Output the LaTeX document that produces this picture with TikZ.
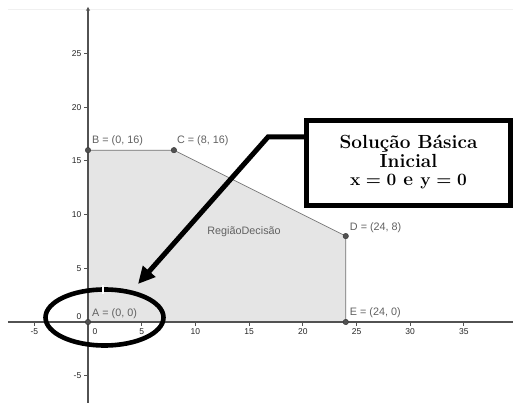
\documentclass[tikz,border=0pt]{standalone}
\usepackage{fontspec}
\setsansfont{Liberation Sans}
\usetikzlibrary{arrows.meta,shapes.geometric}
\newcommand\solboxtext{{\fontsize{19}{18.5}\selectfont\bfseries\boldmath
  \begin{tabular}{@{}c@{}}Solução Básica\\ Inicial\\ $\mathbf{x = 0}$ e $\mathbf{y = 0}$\end{tabular}}}
\begin{document}
\begin{tikzpicture}[x=1pt,y=1pt,
  lbl/.style={font=\sffamily\fontsize{10.8}{12}\selectfont, text=black!62, inner sep=0pt, anchor=west},
  ticklbl/.style={font=\sffamily\fontsize{8.5}{10}\selectfont, text=black!85, inner sep=0pt},
  vertex/.style={circle, fill=black!68, draw=black!80, line width=0.4pt, inner sep=0pt, minimum size=5.5pt},
  axisline/.style={draw=black!68, line width=1.2pt},
  tickmark/.style={draw=black!68, line width=0.9pt},
  edge/.style={draw=black!55, line width=0.7pt},
  heavyline/.style={line width=4.6pt},
]
\useasboundingbox (0,0) rectangle (513,403);
\fill[white] (0,0) rectangle (513,403);
\draw[black!6, line width=0.6pt] (8,394) -- (513,394);
\begin{scope}[shift={(88,81)}, x=10.74pt, y=10.74pt]
  \fill[black!10] (0,0) -- (0,16) -- (8,16) -- (24,8) -- (24,0) -- cycle;
  \draw[edge] (0,16) -- (8,16) -- (24,8) -- (24,0);
  % axes
  \draw[axisline] (-7.45,0) -- (39.7,0);
  \draw[axisline, -{Stealth[length=4pt,width=4pt]}] (0,-7.6) -- (0,29.35);
  % ticks
  \foreach \t in {-5,5,10,15,20,25,30,35} {
    \draw[tickmark] (\t,0) -- ++(0,-4pt);
    \node[ticklbl] at ([yshift=-9.5pt]\t,0) {\t};
  }
  \node[ticklbl] at ([shift={(7pt,-9.5pt)}]0,0) {0};
  \foreach \t in {-5,5,10,15,20,25} {
    \draw[tickmark] (0,\t) -- ++(-4pt,0);
    \node[ticklbl, anchor=east] at ([xshift=-6.5pt]0,\t) {\t};
  }
  \node[ticklbl, anchor=east] at ([shift={(-6.5pt,5pt)}]0,0) {0};
  % vertices
  \node[vertex] (A) at (0,0) {};
  \node[vertex] (B) at (0,16) {};
  \node[vertex] (C) at (8,16) {};
  \node[vertex] (D) at (24,8) {};
  \node[vertex] (E) at (24,0) {};
  \node[lbl] (Al) at ([shift={(4pt,8pt)}]A.center) {A = (0, 0)};
  \node[lbl] (Bl) at ([shift={(4pt,9pt)}]B.center) {B = (0, 16)};
  \node[lbl] (Cl) at ([shift={(3pt,9pt)}]C.center) {C = (8, 16)};
  \node[lbl] (Dl) at ([shift={(4pt,8pt)}]D.center) {D = (24, 8)};
  \node[lbl] (El) at ([shift={(4pt,9pt)}]E.center) {E = (24, 0)};
  \node[lbl, anchor=center] (reg) at (14.53,8.38) {RegiãoDecisão};
\end{scope}
% annotation
\node[ellipse, draw, heavyline, minimum width=118pt, minimum height=56pt, inner sep=0pt] (ring) at (104.5,85.5) {};
\draw[white, line width=1.2pt] (103,109) -- (103,118);
\node[draw, heavyline, minimum width=204pt, minimum height=85.5pt, inner sep=0pt] (box) at (408.5,240) {\solboxtext};
\coordinate (bend) at (268,266);
\coordinate (tip) at (138,119);
\draw[line width=5pt, -{Triangle[length=17pt,width=16pt]}] (box.west |- bend) -- (bend) -- (tip);
\end{tikzpicture}
\end{document}
